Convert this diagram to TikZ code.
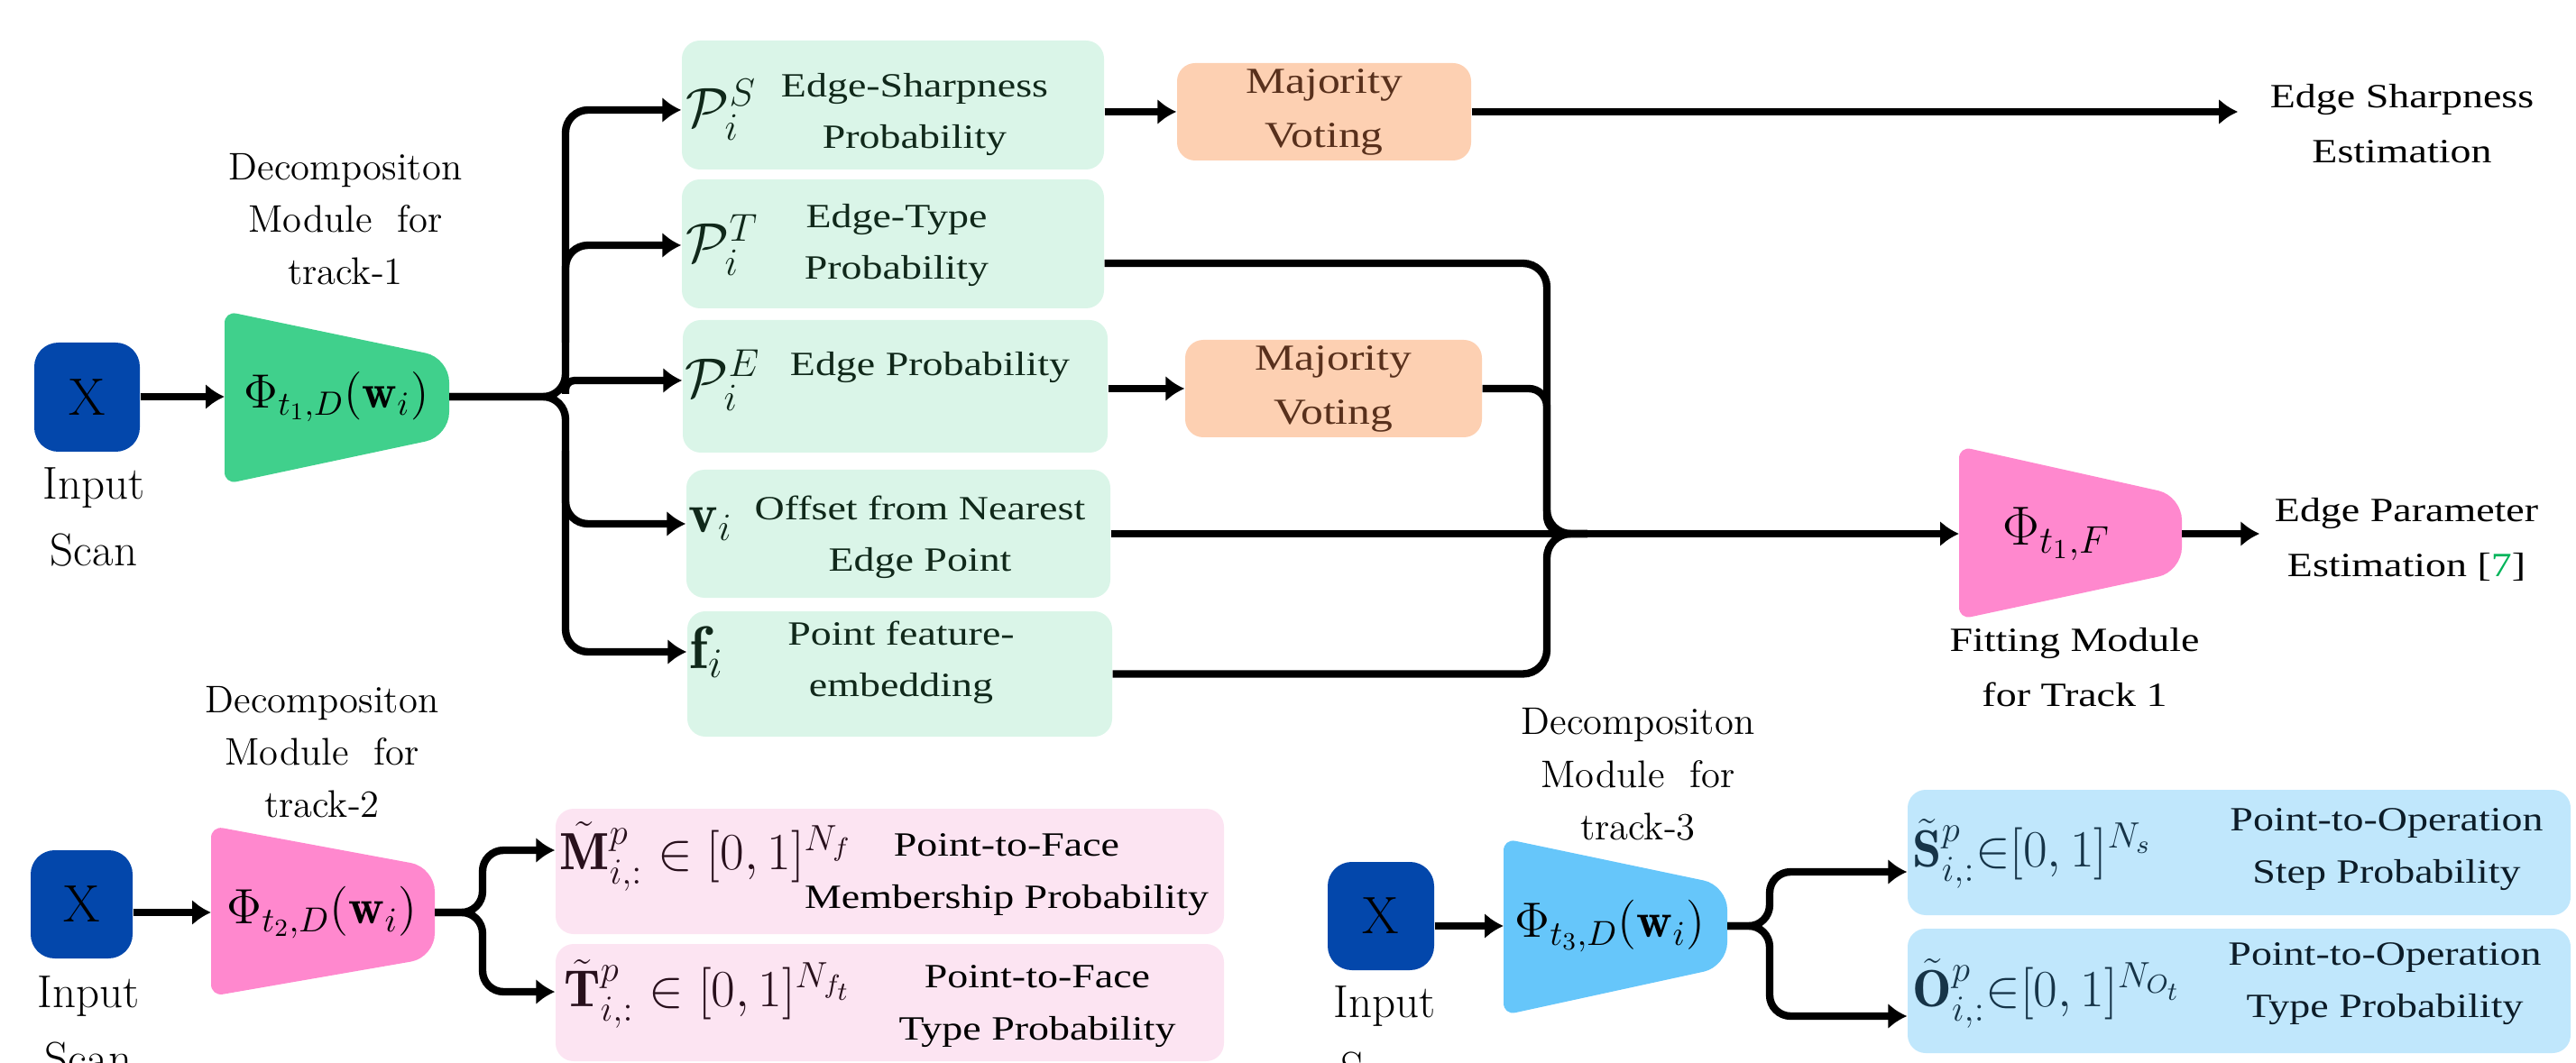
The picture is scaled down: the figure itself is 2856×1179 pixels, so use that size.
\RequirePackage{fix-cm}
\documentclass[tikz,border=0pt]{standalone}
\usepackage{amsmath,amssymb}
\usepackage{fontspec}
\usetikzlibrary{arrows.meta,calc}
\newfontfamily\dvs{Liberation Serif}[FakeStretch=1.22]
\definecolor{xblue}{RGB}{3,71,171}
\definecolor{trapgreen}{RGB}{64,208,140}
\definecolor{boxgreen}{RGB}{218,245,232}
\definecolor{peach}{RGB}{253,208,178}
\definecolor{brownt}{RGB}{88,48,28}
\definecolor{trappink}{RGB}{255,136,206}
\definecolor{boxpink}{RGB}{252,228,242}
\definecolor{trapblue}{RGB}{102,198,250}
\definecolor{boxblue}{RGB}{192,231,252}
\definecolor{citegreen}{RGB}{0,180,90}
\definecolor{greentext}{RGB}{16,40,26}
\definecolor{pinktext}{RGB}{40,16,28}
\definecolor{bluetext}{RGB}{12,28,40}
\definecolor{slatemath}{RGB}{22,52,72}
\newcommand{\mytrap}[7]{%
  \fill[#1] [rounded corners=4pt] (#2,{(#3+#4)/2}) -- (#2,#3)
     [rounded corners=8pt] -- (#5,#6) -- (#5,#7)
     [rounded corners=4pt] -- (#2,#4) -- cycle;}
\tikzset{
  conn/.style={line width=2.5pt, draw=black},
  arr/.style={conn, -{Latex[length=6.3pt,width=8.6pt]}},
  greenbox/.style={fill=boxgreen, rounded corners=6pt, inner sep=0pt},
  pinkbox/.style={fill=boxpink, rounded corners=6pt, inner sep=0pt},
  bluebox/.style={fill=boxblue, rounded corners=6pt, inner sep=0pt},
  votebox/.style={fill=peach, rounded corners=6pt, inner sep=0pt, text=brownt,
     align=center, font={\dvs\fontsize{12.2}{18}\selectfont}},
  xbox/.style={fill=xblue, rounded corners=8pt, inner sep=0pt,
     font={\fontsize{17.5}{18}\selectfont}},
  lbl/.style={inner sep=0pt, align=center, font={\dvs\fontsize{11.3}{17.25}\selectfont}},
  side/.style={inner sep=0pt, align=center, font={\dvs\fontsize{11.3}{18.3}\selectfont}},
  declbl/.style={inner sep=0pt, align=center, font={\fontsize{12.8}{17.5}\selectfont}},
  inlbl/.style={inner sep=0pt, align=center, font={\fontsize{15.3}{22.2}\selectfont}},
  mth/.style={inner sep=0pt, anchor=west, font={\fontsize{18.5}{18.5}\selectfont}},
  bigmth/.style={inner sep=0pt, anchor=west, font={\fontsize{17.4}{17.4}\selectfont}},
  trapmath/.style={inner sep=0pt, font={\fontsize{16}{16}\selectfont}},
}
\begin{document}
\begin{tikzpicture}[x=0.3pt,y=-0.3pt]
\useasboundingbox (0,0) rectangle (2856,1179);

% ---------------- Track 1 ----------------
\node[xbox, minimum width=117*0.3pt, minimum height=121*0.3pt] (x1) at (96.5,440.5) {X};
\node[inlbl] (in1) at (104,573) {Input\\Scan};
\node[declbl] (dec1) at (383,243) {Decompositon\\Module~~for\\track-1};

\mytrap{trapgreen}{249}{345}{537}{498}{397}{484}
\coordinate (t1w) at (249,440);
\coordinate (t1e) at (498,440);
\node[trapmath] (t1) at (373,440) {$\Phi_{t_1,D}(\mathbf{w}_i)$};

\node[greenbox, minimum width=468*0.3pt, minimum height=143*0.3pt] (ps) at (990,116.5) {};
\node[greenbox, minimum width=468*0.3pt, minimum height=143*0.3pt] (pt) at (990,270.5) {};
\node[greenbox, minimum width=471*0.3pt, minimum height=147*0.3pt] (pe) at (992.5,428.5) {};
\node[greenbox, minimum width=470*0.3pt, minimum height=142*0.3pt] (pv) at (996,592) {};
\node[greenbox, minimum width=471*0.3pt, minimum height=139*0.3pt] (pf) at (997.5,747.5) {};

\node[mth, text=greentext] (psm) at (760,122) {$\mathcal{P}_i^S$};
\node[mth, text=greentext] (ptm) at (760,272) {$\mathcal{P}_i^T$};
\node[mth, text=greentext] (pem) at (759,422) {$\mathcal{P}_i^E$};
\node[mth, text=greentext] (pvm) at (763,581) {$\mathbf{v}_i$};
\node[mth, text=greentext, font={\fontsize{20}{20}\selectfont}] (pfm) at (764,723) {$\mathbf{f}_i$};

\node[lbl, text=greentext] (psl) at (1014,127) {Edge-Sharpness\\Probability};
\node[lbl, text=greentext] (ptl) at (994,272) {Edge-Type\\Probability};
\node[lbl, text=greentext, anchor=base] (pel) at (1031,417) {Edge Probability};
\node[lbl, text=greentext] (pvl) at (1020,596) {Offset from Nearest\\Edge Point};
\node[lbl, text=greentext] (pfl) at (999,735) {Point feature-\\embedding};

\node[votebox, minimum width=326*0.3pt, minimum height=108*0.3pt] (maj1) at (1468,124) {Majority\\Voting};
\node[votebox, minimum width=329*0.3pt, minimum height=108*0.3pt] (maj2) at (1478.5,431) {Majority\\Voting};

\node[side] (est) at (2663,137) {Edge Sharpness\\Estimation};

\mytrap{trappink}{2172}{495}{687}{2419}{550}{634}
\coordinate (fw) at (2172,592);
\coordinate (fe) at (2419,592);
\node[trapmath, font={\fontsize{18.3}{18.3}\selectfont}] (phif) at (2280,592) {$\Phi_{t_1,F}$};
\node[side] (fit) at (2300,740) {Fitting Module\\for Track 1};
\node[side] (epe) at (2668,598) {Edge Parameter\\Estimation [\textcolor{citegreen}{7}]};

% connectors track 1
\draw[arr] (x1.east |- t1w) -- (t1w);
\coordinate (bus1) at (627,440);
\draw[arr, rounded corners=7.5pt] (t1e) -- (bus1) |- (ps.west |- psm);
\draw[arr, rounded corners=7.5pt] (t1e) -- (bus1) |- (pf.west |- pfm);
\draw[arr, rounded corners=7.5pt] ($(bus1)+(0,-60)$) |- (pt.west |- ptm);
\draw[arr, rounded corners=3pt] ($(bus1)+(0,-3)$) |- (pe.west |- pem);
\draw[arr, rounded corners=7.5pt] ($(bus1)+(0,60)$) |- (pv.west |- pvm);

\draw[arr] (ps.east |- maj1) -- (maj1);
\draw[arr, shorten >=10.5pt] (maj1) -- (maj1 -| est.west);
\draw[arr] (pe.east |- maj2) -- (maj2);

\coordinate (bus2) at (1715,592);
\draw[conn, rounded corners=8pt] ([yshift=-6.45pt]pt.east) -| (bus2) -- ($(bus2)+(45,0)$);
\draw[conn, rounded corners=6pt] (maj2.east) -| (bus2) -- ($(bus2)+(45,0)$);
\draw[conn, rounded corners=8pt] (pf.east) -| (bus2) -- ($(bus2)+(45,0)$);
\draw[arr] (pv.east) -- (fw);
\draw[arr, shorten >=4.8pt] (fe) -- (fe -| epe.west);

% ---------------- Track 2 ----------------
\node[xbox, minimum width=113*0.3pt, minimum height=120*0.3pt] (x2) at (90.5,1003) {X};
\node[inlbl] (in2) at (98,1137.5) {Input\\Scan};
\node[declbl] (dec2) at (357,834) {Decompositon\\Module~~for\\track-2};
\mytrap{trappink}{234}{916}{1105}{482}{962}{1062}
\coordinate (t2w) at (234,1012);
\coordinate (t2e) at (482,1012);
\node[trapmath, font={\fontsize{16.5}{16.5}\selectfont}] (t2) at (357,1012) {$\Phi_{t_2,D}(\mathbf{w}_i)$};

\node[pinkbox, minimum width=741*0.3pt, minimum height=139*0.3pt] (mb) at (986.5,966.5) {};
\node[pinkbox, minimum width=741*0.3pt, minimum height=130*0.3pt] (tb) at (986.5,1112) {};
\node[bigmth, text=pinktext] (mm) at (620,950) {$\tilde{\mathbf{M}}^p_{i,:} \in [0,1]^{N_f}$};
\node[bigmth, text=pinktext] (tm) at (625,1102) {$\tilde{\mathbf{T}}^p_{i,:} \in [0,1]^{N_{f_t}}$};
\node[lbl] (ml) at (1116,970) {Point-to-Face\\Membership Probability};
\node[lbl] (tl) at (1150,1116) {Point-to-Face\\Type Probability};

\draw[arr] (x2.east |- t2w) -- (t2w);
\coordinate (bus3) at (535,1012);
\draw[arr, rounded corners=7pt] (t2e) -- (bus3) |- ([yshift=7.05pt]mb.west);
\draw[arr, rounded corners=7pt] (t2e) -- (bus3) |- ([yshift=3.6pt]tb.west);

% ---------------- Track 3 ----------------
\node[xbox, minimum width=118*0.3pt, minimum height=120*0.3pt] (x3) at (1531,1016) {X};
\node[inlbl] (in3) at (1535,1148.5) {Input\\Scan};
\node[declbl] (dec3) at (1816,859) {Decompositon\\Module~~for\\track-3};
\mytrap{trapblue}{1667}{930}{1126}{1915}{982}{1072}
\coordinate (t3w) at (1667,1027);
\coordinate (t3e) at (1915,1027);
\node[trapmath, font={\fontsize{16.5}{16.5}\selectfont}] (t3) at (1785,1027) {$\Phi_{t_3,D}(\mathbf{w}_i)$};

\node[bluebox, minimum width=735*0.3pt, minimum height=139*0.3pt] (sb) at (2482.5,945.5) {};
\node[bluebox, minimum width=735*0.3pt, minimum height=138*0.3pt] (ob) at (2482.5,1099) {};
\node[bigmth, text=slatemath] (sm) at (2120,947) {$\tilde{\mathbf{S}}^p_{i,:}{\in}[0,1]^{N_s}$};
\node[bigmth, text=slatemath] (om) at (2120,1102) {$\tilde{\mathbf{O}}^p_{i,:}{\in}[0,1]^{N_{O_t}}$};
\node[lbl, text=bluetext] (sl) at (2646,942) {Point-to-Operation\\Step Probability};
\node[lbl, text=bluetext] (ol) at (2644,1091) {Point-to-Operation\\Type Probability};

\draw[arr] (x3.east |- t3w) -- (t3w);
\coordinate (bus4) at (1962,1027);
\draw[arr, rounded corners=7pt] (t3e) -- (bus4) |- ([yshift=-6.45pt]sb.west);
\draw[arr, rounded corners=7pt] (t3e) -- (bus4) |- ([yshift=-8.4pt]ob.west);
\end{tikzpicture}
\end{document}
